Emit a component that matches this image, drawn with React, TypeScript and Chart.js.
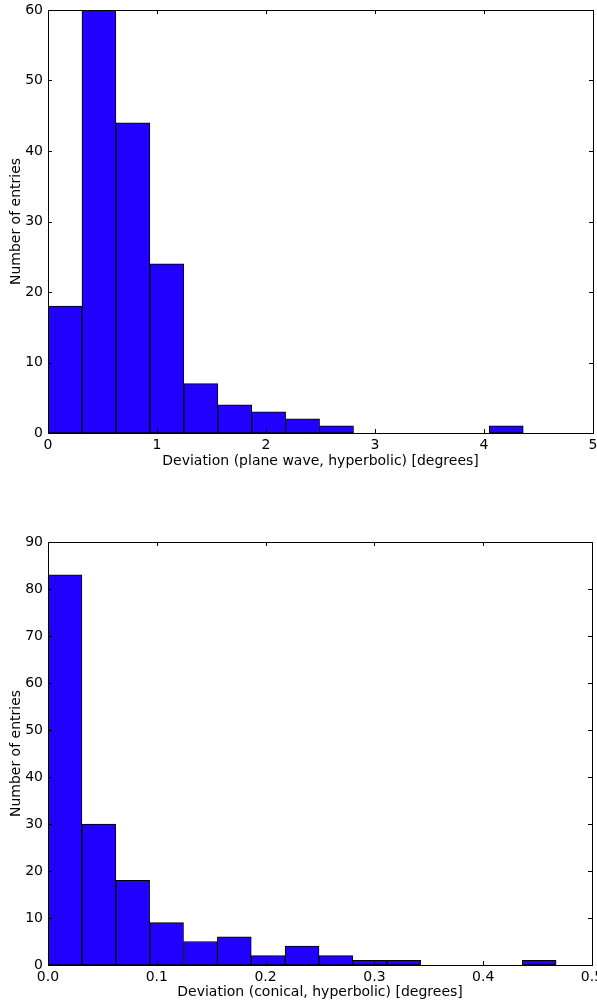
import React, { useEffect, useRef } from "react";
import { Chart, registerables } from "chart.js";

Chart.register(...registerables);

// ---------- Data ----------
const topBinEdges = [0, 0.3114, 0.6229, 0.9343, 1.2457, 1.5571, 1.8686, 2.18, 2.4914, 2.8029, 3.1143, 3.4257, 3.7371, 4.0486, 4.36];
const topCounts = [18, 60, 44, 24, 7, 4, 3, 2, 1, 0, 0, 0, 0, 1];
const topXTickLabels = ["0", "1", "2", "3", "4", "5"];
const topYTickLabels = ["0", "10", "20", "30", "40", "50", "60"];
const topXTitle = "Deviation (plane wave, hyperbolic) [degrees]";

const bottomBinEdges = [0, 0.0311, 0.0623, 0.0934, 0.1246, 0.1557, 0.1868, 0.218, 0.2491, 0.2802, 0.3114, 0.3425, 0.3736, 0.4048, 0.4359, 0.467];
const bottomCounts = [83, 30, 18, 9, 5, 6, 2, 4, 2, 1, 1, 0, 0, 0, 1];
const bottomXTickLabels = ["0.0", "0.1", "0.2", "0.3", "0.4", "0.5"];
const bottomYTickLabels = ["0", "10", "20", "30", "40", "50", "60", "70", "80", "90"];
const bottomXTitle = "Deviation (conical, hyperbolic) [degrees]";

const yTitle = "Number of entries";

const FONT = { family: "'DejaVu Sans', sans-serif", size: 14 };

const frameAndTicks = {
  id: "frameAndTicks",
  afterDatasetsDraw(chart: any) {
    const { ctx, chartArea } = chart;
    const { left, right, top, bottom } = chartArea;
    const xs = chart.scales.x;
    const ys = chart.scales.y;
    ctx.save();
    ctx.strokeStyle = "#000";
    ctx.lineWidth = 1;
    const L = 4;
    ctx.beginPath();
    xs.ticks.forEach((t: any) => {
      const px = Math.round(xs.getPixelForValue(t.value)) + 0.5;
      ctx.moveTo(px, bottom);
      ctx.lineTo(px, bottom - L);
      ctx.moveTo(px, top);
      ctx.lineTo(px, top + L);
    });
    ys.ticks.forEach((t: any) => {
      const py = Math.round(ys.getPixelForValue(t.value)) + 0.5;
      ctx.moveTo(left, py);
      ctx.lineTo(left + L, py);
      ctx.moveTo(right, py);
      ctx.lineTo(right - L, py);
    });
    ctx.stroke();
    ctx.strokeRect(Math.round(left) + 0.5, Math.round(top) + 0.5, Math.round(right - left), Math.round(bottom - top));
    ctx.restore();
  },
};

type HistProps = {
  edges: number[];
  counts: number[];
  xLabels: string[];
  yLabels: string[];
  xTitle: string;
  xMax: number;
  xStep: number;
  yMax: number;
  yStep: number;
  width: number;
  height: number;
  padTop: number;
  padRight: number;
  xAxisHeight: number;
  xTitlePadBottom: number;
};

function clearPad(s: any) {
  s.paddingLeft = 0;
  s.paddingRight = 0;
  s.paddingTop = 0;
  s.paddingBottom = 0;
}

function Histogram(p: HistProps) {
  const ref = useRef<HTMLCanvasElement | null>(null);
  useEffect(() => {
    if (!ref.current) return;
    const data = p.counts.map((c, i) => ({
      x: (p.edges[i] + p.edges[i + 1]) / 2,
      y: c === 0 ? null : c,
    }));
    const chart = new Chart(ref.current, {
      type: "bar",
      data: {
        datasets: [
          {
            data: data as any,
            backgroundColor: "#2200ff",
            borderColor: "#000000",
            borderWidth: 1,
            borderSkipped: false,
            barPercentage: 1,
            categoryPercentage: 1,
          },
        ],
      },
      options: {
        responsive: false,
        animation: false,
        devicePixelRatio: 1,
        layout: { padding: { top: p.padTop, right: p.padRight, left: 0, bottom: 0 } },
        plugins: { legend: { display: false }, tooltip: { enabled: false } },
        scales: {
          x: {
            type: "linear",
            min: 0,
            max: p.xMax,
            offset: false,
            grid: { display: false, drawTicks: false },
            border: { display: false },
            ticks: {
              stepSize: p.xStep,
              padding: 4,
              color: "#000",
              font: FONT,
              maxRotation: 0,
              autoSkip: false,
              callback: (_v: any, i: number) => p.xLabels[i],
            },
            title: {
              display: true,
              text: p.xTitle,
              color: "#000",
              font: FONT,
              padding: { top: 0, bottom: p.xTitlePadBottom },
            },
            afterFit: (s: any) => {
              s.height = p.xAxisHeight;
              clearPad(s);
            },
          },
          y: {
            min: 0,
            max: p.yMax,
            grid: { display: false, drawTicks: false },
            border: { display: false },
            ticks: {
              stepSize: p.yStep,
              padding: 5,
              color: "#000",
              font: FONT,
              autoSkip: false,
              callback: (_v: any, i: number) => p.yLabels[i],
            },
            title: {
              display: true,
              text: yTitle,
              color: "#000",
              font: FONT,
              padding: { top: 8, bottom: 0 },
            },
            afterFit: (s: any) => {
              s.width = 48;
              clearPad(s);
            },
          },
        },
      },
      plugins: [frameAndTicks],
    });
    return () => chart.destroy();
  }, []);
  return <canvas ref={ref} width={p.width} height={p.height} style={{ display: "block", width: p.width, height: p.height }} />;
}

export default function App() {
  return (
    <div
      style={{
        position: "absolute",
        left: 0,
        top: 0,
        width: 597,
        height: 1007,
        overflow: "hidden",
        background: "#fff",
      }}
    >
      <div style={{ position: "absolute", left: 0, top: 0 }}>
        <Histogram
          edges={topBinEdges}
          counts={topCounts}
          xLabels={topXTickLabels}
          yLabels={topYTickLabels}
          xTitle={topXTitle}
          xMax={5}
          xStep={1}
          yMax={60}
          yStep={10}
          width={597}
          height={480}
          padTop={10}
          padRight={4}
          xAxisHeight={47}
          xTitlePadBottom={10}
        />
      </div>
      <div style={{ position: "absolute", left: 0, top: 500 }}>
        <Histogram
          edges={bottomBinEdges}
          counts={bottomCounts}
          xLabels={bottomXTickLabels}
          yLabels={bottomYTickLabels}
          xTitle={bottomXTitle}
          xMax={0.5}
          xStep={0.1}
          yMax={90}
          yStep={10}
          width={625}
          height={507}
          padTop={42}
          padRight={33}
          xAxisHeight={42}
          xTitlePadBottom={6}
        />
      </div>
    </div>
  );
}
